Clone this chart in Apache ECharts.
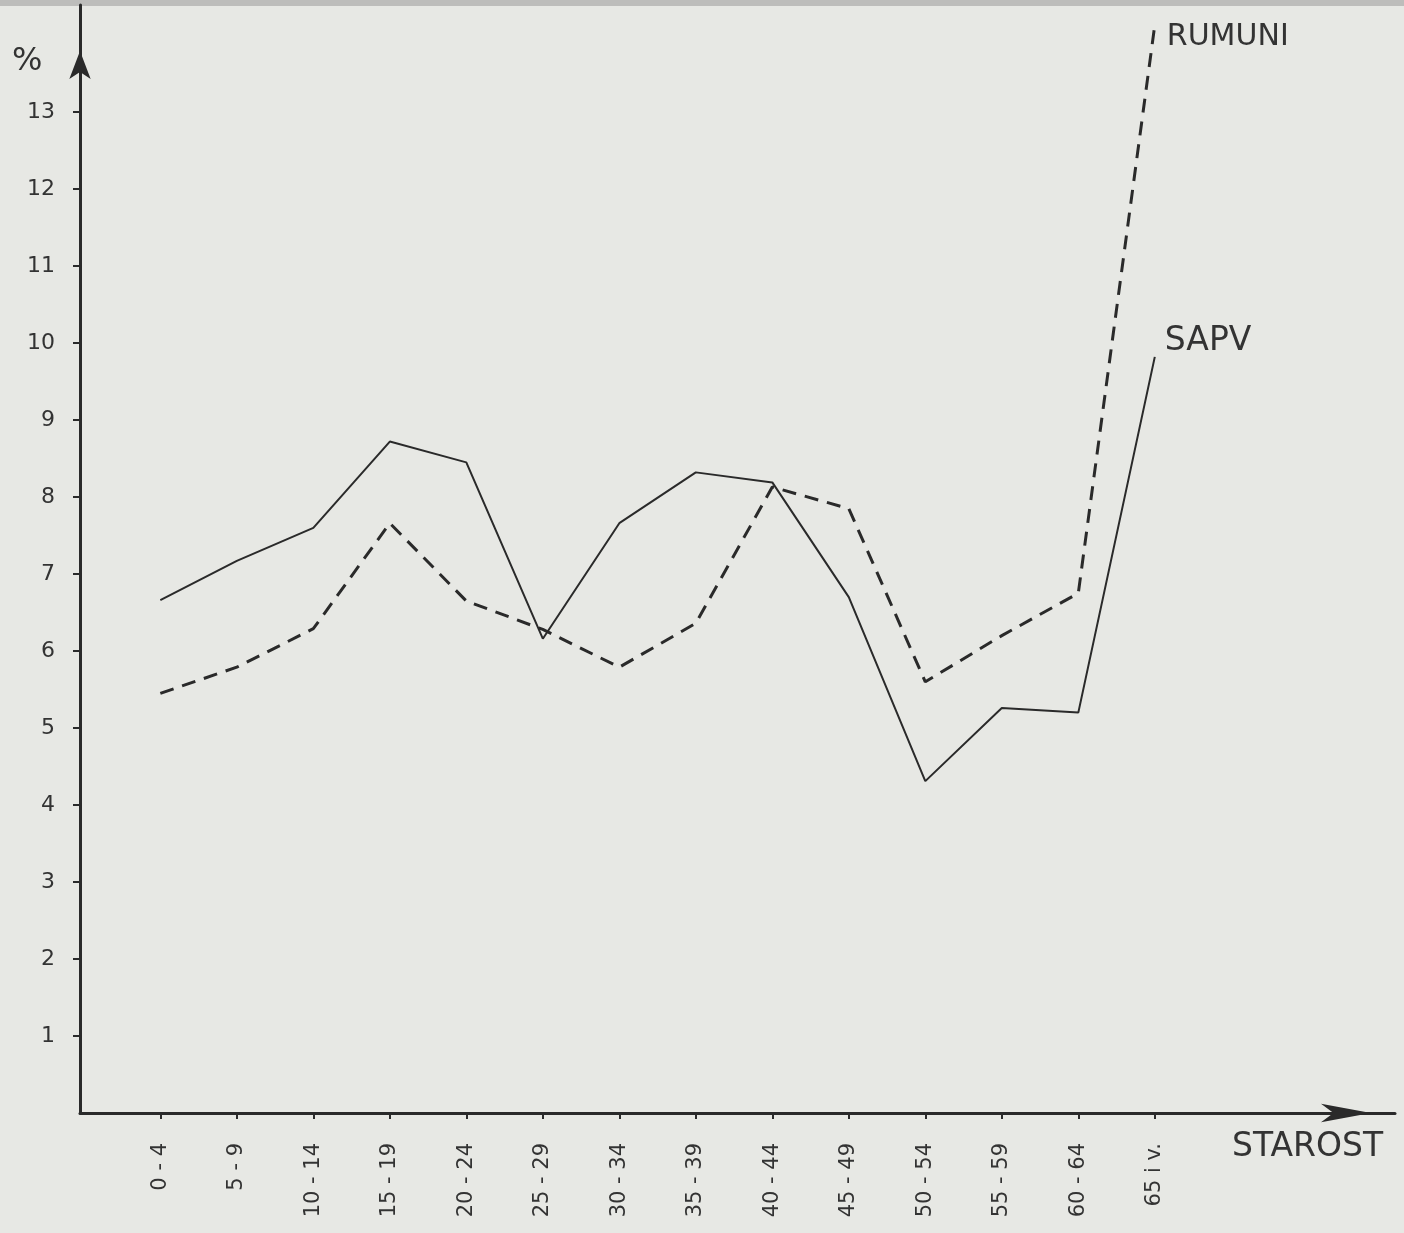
<!DOCTYPE html>
<html>
<head>
<meta charset="utf-8">
<script src="https://cdn.jsdelivr.net/npm/echarts@6/dist/echarts.min.js"></script>
<style>
  html, body { margin: 0; padding: 0; background: #e7e8e4; }
  #chart { width: 1404px; height: 1233px; }
</style>
</head>
<body>
<div id="chart"></div>
<script>
// dobne skupine (x os)
var ageGroups = ['0 - 4', '5 - 9', '10 - 14', '15 - 19', '20 - 24', '25 - 29', '30 - 34',
  '35 - 39', '40 - 44', '45 - 49', '50 - 54', '55 - 59', '60 - 64', '65 i v.'];
// % po skupinama
var sapv = [6.66, 7.17, 7.6, 8.72, 8.45, 6.16, 7.66, 8.32, 8.19, 6.7, 4.31, 5.26, 5.2, 9.82];
var rumuni = [5.45, 5.79, 6.29, 7.66, 6.65, 6.28, 5.79, 6.36, 8.13, 7.85, 5.6, 6.2, 6.75, 14.13];
var yTicks = [1, 2, 3, 4, 5, 6, 7, 8, 9, 10, 11, 12, 13];

var ink = '#2a2a2a';
var font = 'DejaVu Sans';

var xTicks = ageGroups.map(function (g, i) { return i; });
function pairs(arr) {
  return arr.map(function (v, i) { return [i, v]; });
}

var myChart = echarts.init(document.getElementById('chart'));
myChart.setOption({
  backgroundColor: '#e7e8e4',
  animation: false,
  grid: { left: 80, right: 9, top: 5, bottom: 120, containLabel: false },
  xAxis: {
    type: 'value',
    min: -1.05,
    max: 16.14,
    splitLine: { show: false },
    axisLine: {
      lineStyle: { color: ink, width: 3 },
      symbol: ['none', 'arrow'],
      symbolSize: [14, 50],
      symbolOffset: [0, -24]
    },
    axisTick: { customValues: xTicks, length: 6, lineStyle: { color: ink, width: 2 } },
    axisLabel: {
      customValues: xTicks,
      rotate: 90,
      margin: 30,
      color: '#333',
      fontFamily: font,
      fontSize: 21,
      formatter: function (v) { return ageGroups[Math.round(v)]; }
    }
  },
  yAxis: {
    type: 'value',
    min: 0,
    max: 14.39,
    splitLine: { show: false },
    axisLine: {
      onZero: false,
      lineStyle: { color: ink, width: 3 },
      symbol: ['none', 'arrow'],
      symbolSize: [16, 28],
      symbolOffset: [0, -46]
    },
    axisTick: { customValues: yTicks, length: 7, lineStyle: { color: ink, width: 2 } },
    axisLabel: {
      customValues: yTicks,
      margin: 25,
      color: '#333',
      fontFamily: font,
      fontSize: 22
    }
  },
  graphic: [
    { type: 'rect', shape: { x: 0, y: 0, width: 1404, height: 6 }, style: { fill: '#bdbdbb' } },
    { type: 'text', left: 12, top: 46, style: { text: '%', fill: '#333', font: '32px "DejaVu Sans"' } },
    { type: 'text', left: 1232, top: 1131, style: { text: 'STAROST', fill: '#333', font: '33px "DejaVu Sans"' } }
  ],
  series: [
    {
      name: 'SAPV',
      type: 'line',
      data: pairs(sapv),
      symbol: 'none',
      lineStyle: { color: ink, width: 2 },
      endLabel: {
        show: true,
        formatter: '{a}',
        offset: [2, -15],
        color: '#333',
        fontFamily: font,
        fontSize: 33
      }
    },
    {
      name: 'RUMUNI',
      type: 'line',
      data: pairs(rumuni),
      symbol: 'none',
      lineStyle: { color: ink, width: 3, type: [14, 9] },
      endLabel: {
        show: true,
        formatter: '{a}',
        offset: [4, 12],
        color: '#333',
        fontFamily: font,
        fontSize: 30
      }
    }
  ]
});
</script>
</body>
</html>
